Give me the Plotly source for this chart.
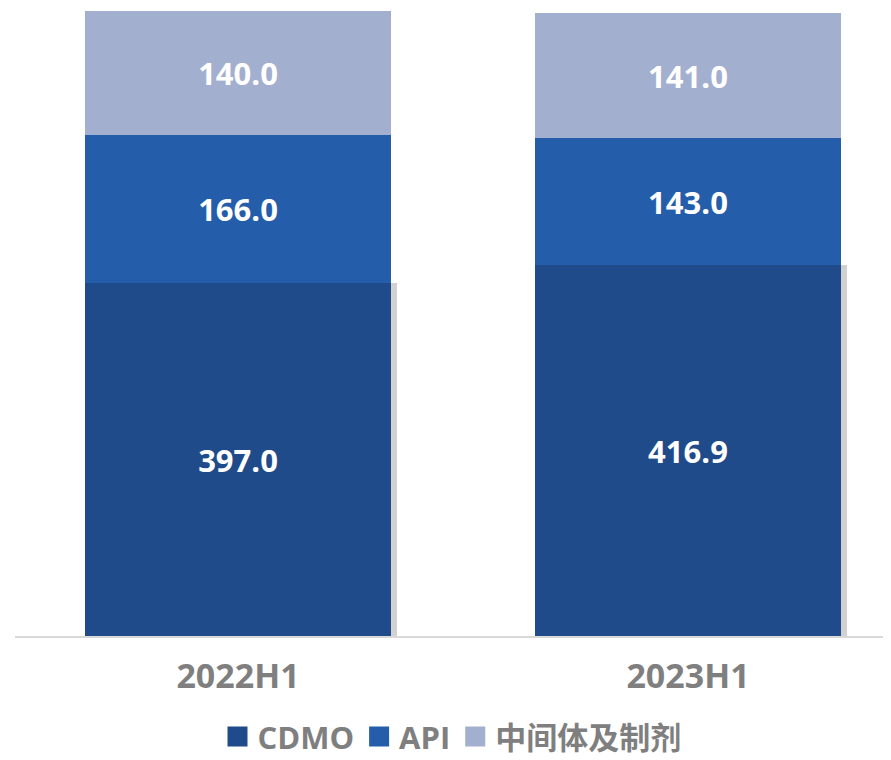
import plotly.graph_objects as go

periods = ['2022H1', '2023H1']
cdmo = [397.0, 416.9]
api = [166.0, 143.0]
intermediates = [140.0, 141.0]

series = [
    ('CDMO', cdmo, '#1F4B8B'),
    ('API', api, '#245DAA'),
    ('中间体及制剂', intermediates, '#A3AFCF'),
]

FONT = 'Open Sans, Noto Sans CJK SC'
BAR_W = 0.682
X_RANGE = [-0.4956, 1.4467]
Y_RANGE = [0, 706.4]

fig = go.Figure()

# shadow to the right of the CDMO bars (base subplot, drawn below the bars)
fig.add_trace(go.Bar(
    x=periods, y=cdmo, width=BAR_W, offset=-BAR_W / 2 + 0.013,
    marker=dict(color='rgba(0,0,0,0.18)', line=dict(width=0)),
    showlegend=False, hoverinfo='skip',
    xaxis='x', yaxis='y',
))

for name, values, color in series:
    fig.add_trace(go.Bar(
        x=periods, y=values, name=name,
        marker=dict(color=color, line=dict(width=0)),
        width=BAR_W,
        text=[f'{v:.1f}' for v in values],
        textposition='inside', insidetextanchor='middle',
        textfont=dict(color='white', size=31, family=FONT),
        texttemplate='<b>%{text}</b>',
        showlegend=False,
        xaxis='x2', yaxis='y2',
    ))
    # legend entry with a bigger square swatch
    fig.add_trace(go.Scatter(
        x=[None], y=[None], mode='markers', name=f'<b>{name}</b>',
        marker=dict(symbol='square', size=16, color=color,
                    line=dict(color=color, width=4)),
        xaxis='x2', yaxis='y2',
    ))

fig.update_layout(
    barmode='stack',
    width=891, height=760,
    margin=dict(l=7, r=10, t=0, b=132),
    plot_bgcolor='white',
    paper_bgcolor='white',
    font=dict(family=FONT, color='#7F7F7F'),
    xaxis=dict(
        range=X_RANGE, automargin=False,
        showgrid=False, zeroline=False,
        showline=True, linecolor='#D9D9D9', linewidth=1.5,
        tickfont=dict(size=34, color='#7F7F7F'),
        ticklabelstandoff=9,
        tickprefix='<b>', ticksuffix='</b>',
    ),
    yaxis=dict(range=Y_RANGE, visible=False, showgrid=False, zeroline=False),
    xaxis2=dict(range=X_RANGE, overlaying='x', visible=False, matches='x'),
    yaxis2=dict(range=Y_RANGE, overlaying='y', visible=False),
    legend=dict(
        orientation='h', x=0.5, xanchor='center',
        yref='container', y=0.041, yanchor='middle',
        font=dict(size=31, color='#7F7F7F'),
        itemwidth=30, traceorder='normal',
    ),
    showlegend=True,
)

fig.write_html('out.html')
